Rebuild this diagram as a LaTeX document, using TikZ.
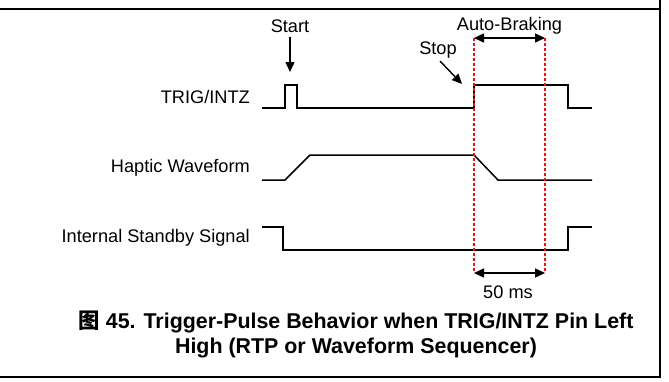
\documentclass[tikz,border=0pt]{standalone}
\usepackage{fontspec}
\setmainfont{Liberation Sans}
\newfontfamily\cjk{Noto Sans CJK SC}
\usepackage{xcolor}
\usepackage{tikz}
\usetikzlibrary{arrows.meta,positioning}
\definecolor{markred}{RGB}{235, 20, 20}

\begin{document}
\begin{tikzpicture}[x=1pt, y=-1pt, every node/.style={font=\fontsize{18.2}{20}\selectfont, inner sep=0pt},
    wave/.style={line width=1.5pt, black, line join=miter},
    sigtag/.style={anchor=east},
    pointer/.style={line width=1.4pt, -{Triangle[length=10pt, width=9pt]}},
    span/.style={line width=1.4pt, {Triangle[length=10pt, width=9pt]}-{Triangle[length=10pt, width=9pt]}},
    marker/.style={markred, line width=1.4pt, dash pattern=on 3pt off 2pt}]
    \useasboundingbox (0,0) rectangle (669,381);

    % Frame
    \draw[line width=1.5pt] (0,9) -- (660,9) -- (660,0);
    \draw[line width=1.5pt] (0,377) -- (660,377) -- (660,9);

    % Signal names
    \node[sigtag] (trig) at (250, 97) {TRIG/INTZ};
    \node[sigtag] (haptic) at (250, 168) {Haptic Waveform};
    \node[sigtag] (standby) at (250, 238) {Internal Standby Signal};

    % Waveforms
    \draw[wave] (262,108) -- (285,108) -- (285,85) -- (297,85) -- (297,108) -- (474,108) -- (474,85) -- (568,85) -- (568,108) -- (592,108);
    \draw[wave] (262,180) -- (285,180) -- (310,155) -- (474,155) -- (498,180) -- (592,180);
    \draw[wave] (262,227) -- (283,227) -- (283,250) -- (568,250) -- (568,227) -- (592,227);

    % Auto-braking window
    \coordinate (brk_a_top) at (474,38);
    \coordinate (brk_b_top) at (545,38);
    \coordinate (brk_a_bot) at (474,273);
    \coordinate (brk_b_bot) at (545,273);
    \draw[marker] (brk_a_top) -- (brk_a_bot);
    \draw[marker] (brk_b_top) -- (brk_b_bot);
    \draw[span] (brk_a_top) -- (brk_b_top);
    \draw[span] (brk_a_bot) -- (brk_b_bot);
    \node (braking) at (509.5, 26) {Auto-Braking};
    \node (width) at (508, 292) {50 ms};

    % Start and stop events
    \node (start) at (290, 26) {Start};
    \coordinate (start_tip) at (290, 72);
    \draw[pointer, shorten <=4pt] (start) -- (start_tip);
    \node (stop) at (438, 50.5) {Stop};
    \coordinate (stop_tip) at (462, 84);
    \draw[pointer, shorten <=3pt] (stop.south) -- (stop_tip);

    % Caption
    \node[font=\fontsize{21.4}{25}\selectfont\bfseries, align=center] (caption) at (356, 334.5) {{\cjk 图} 45. Trigger-Pulse Behavior when TRIG/INTZ Pin Left\\High (RTP or Waveform Sequencer)};
\end{tikzpicture}
\end{document}
